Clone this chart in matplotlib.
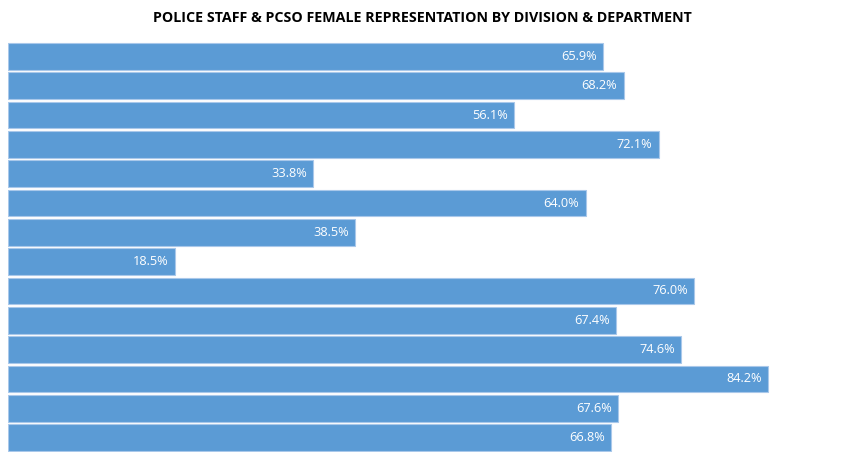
import matplotlib.pyplot as plt

# share of female police staff & PCSOs, top bar first
values = [65.9, 68.2, 56.1, 72.1, 33.8, 64.0, 38.5, 18.5, 76.0, 67.4, 74.6, 84.2, 67.6, 66.8]
labels = [f"{v:.1f}%" for v in values]

plt.rcParams['font.family'] = ['Open Sans', 'DejaVu Sans']

fig = plt.figure(figsize=(8.68, 4.61), dpi=100)
ax = fig.add_axes([8 / 868, 8.7 / 461, 852 / 868, 410.6 / 461])

pos = list(range(len(values)))
bars = ax.barh(pos, values, height=0.91, color='#5B9BD5', edgecolor='#A9C8EA', linewidth=0.8)

for b, lab in zip(bars, labels):
    ax.text(b.get_width() - 0.7, b.get_y() + b.get_height() / 2, lab,
            ha='right', va='center', color='white', fontsize=9.2)

ax.set_xlim(0, 94.4)
ax.set_ylim(len(values) - 0.5, -0.5)
ax.axis('off')

fig.text(0.5 - 12 / 868, 1 - 18 / 461, 'POLICE STAFF & PCSO FEMALE REPRESENTATION BY DIVISION & DEPARTMENT',
         ha='center', va='center', fontsize=10.3, fontweight='bold', color='black')

fig.savefig('out.png', dpi=100)
